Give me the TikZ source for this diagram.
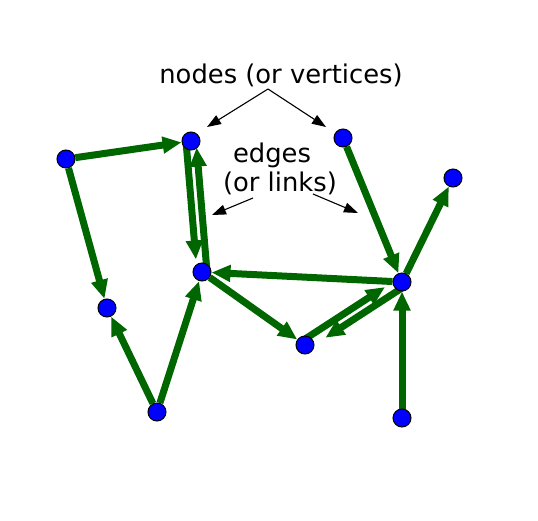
\documentclass[tikz,border=0pt]{standalone}
\usepackage{fontspec}
\setmainfont{DejaVu Sans}
\usetikzlibrary{arrows.meta,calc,backgrounds}
\definecolor{edgegreen}{RGB}{0,102,0}
\begin{document}
\begin{tikzpicture}[x=1pt,y=-1pt,
  vertex/.style={circle,fill=blue,draw=black,line width=1pt,minimum size=18pt,inner sep=0pt},
  link/.style={draw=edgegreen,line width=7pt,-{Triangle[length=19pt,width=16pt]}},
  pointer/.style={draw=black,line width=1.1pt,-{Triangle[length=14pt,width=10pt]}},
  lbl/.style={font=\fontsize{25.8}{30}\selectfont,anchor=base,inner sep=0pt}]
\useasboundingbox (0,0) rectangle (538,520);

% vertices
\node[vertex] (A) at (66,159) {};
\node[vertex] (B) at (191,141) {};
\node[vertex] (C) at (343,138) {};
\node[vertex] (D) at (453,178) {};
\node[vertex] (E) at (202,272) {};
\node[vertex] (F) at (402,282) {};
\node[vertex] (G) at (107,308) {};
\node[vertex] (H) at (305,345) {};
\node[vertex] (I) at (157,412) {};
\node[vertex] (J) at (402,418) {};

% labels
\node[lbl] (nodeslbl) at (281,83) {nodes (or vertices)};
\node[lbl] (edgeslbl) at (272,162) {edges};
\node[lbl] (linkslbl) at (280,191) {(or links)};

% pointer arrows
\coordinate (np) at (268,89);
\coordinate (npl) at (207,127);
\coordinate (npr) at (326,127);
\coordinate (epl) at (253,198);
\coordinate (eptl) at (212,215);
\coordinate (epr) at (313,194);
\coordinate (eptr) at (358,213);
\draw[pointer] (np) -- (npl);
\draw[pointer] (np) -- (npr);
\draw[pointer] (epl) -- (eptl);
\draw[pointer] (epr) -- (eptr);

% edges, kept under the vertices
\begin{pgfonlayer}{background}
\draw[link] (A) -- (B);
\draw[link] (A) -- (G);
\draw[link] (I) -- (G);
\draw[link] (I) -- (E);
\draw[link] (F) -- (E);
\draw[link] (E) -- (H);
\draw[link] (C) -- (F);
\draw[link] (F) -- (D);
\draw[link] (J) -- (F);
% two-way pairs drawn side by side
\draw[link,shorten >=13pt] ($(B)!5pt!-90:(E)$) -- ($(E)!5pt!90:(B)$);
\draw[link,shorten >=7pt] ($(E)!5pt!-90:(B)$) -- ($(B)!5pt!90:(E)$);
\draw[link,shorten >=17pt] ($(H)!5pt!90:(F)$) -- ($(F)!5pt!-90:(H)$);
\draw[link,shorten >=21pt] ($(F)!5pt!90:(H)$) -- ($(H)!5pt!-90:(F)$);
\end{pgfonlayer}
\end{tikzpicture}
\end{document}
